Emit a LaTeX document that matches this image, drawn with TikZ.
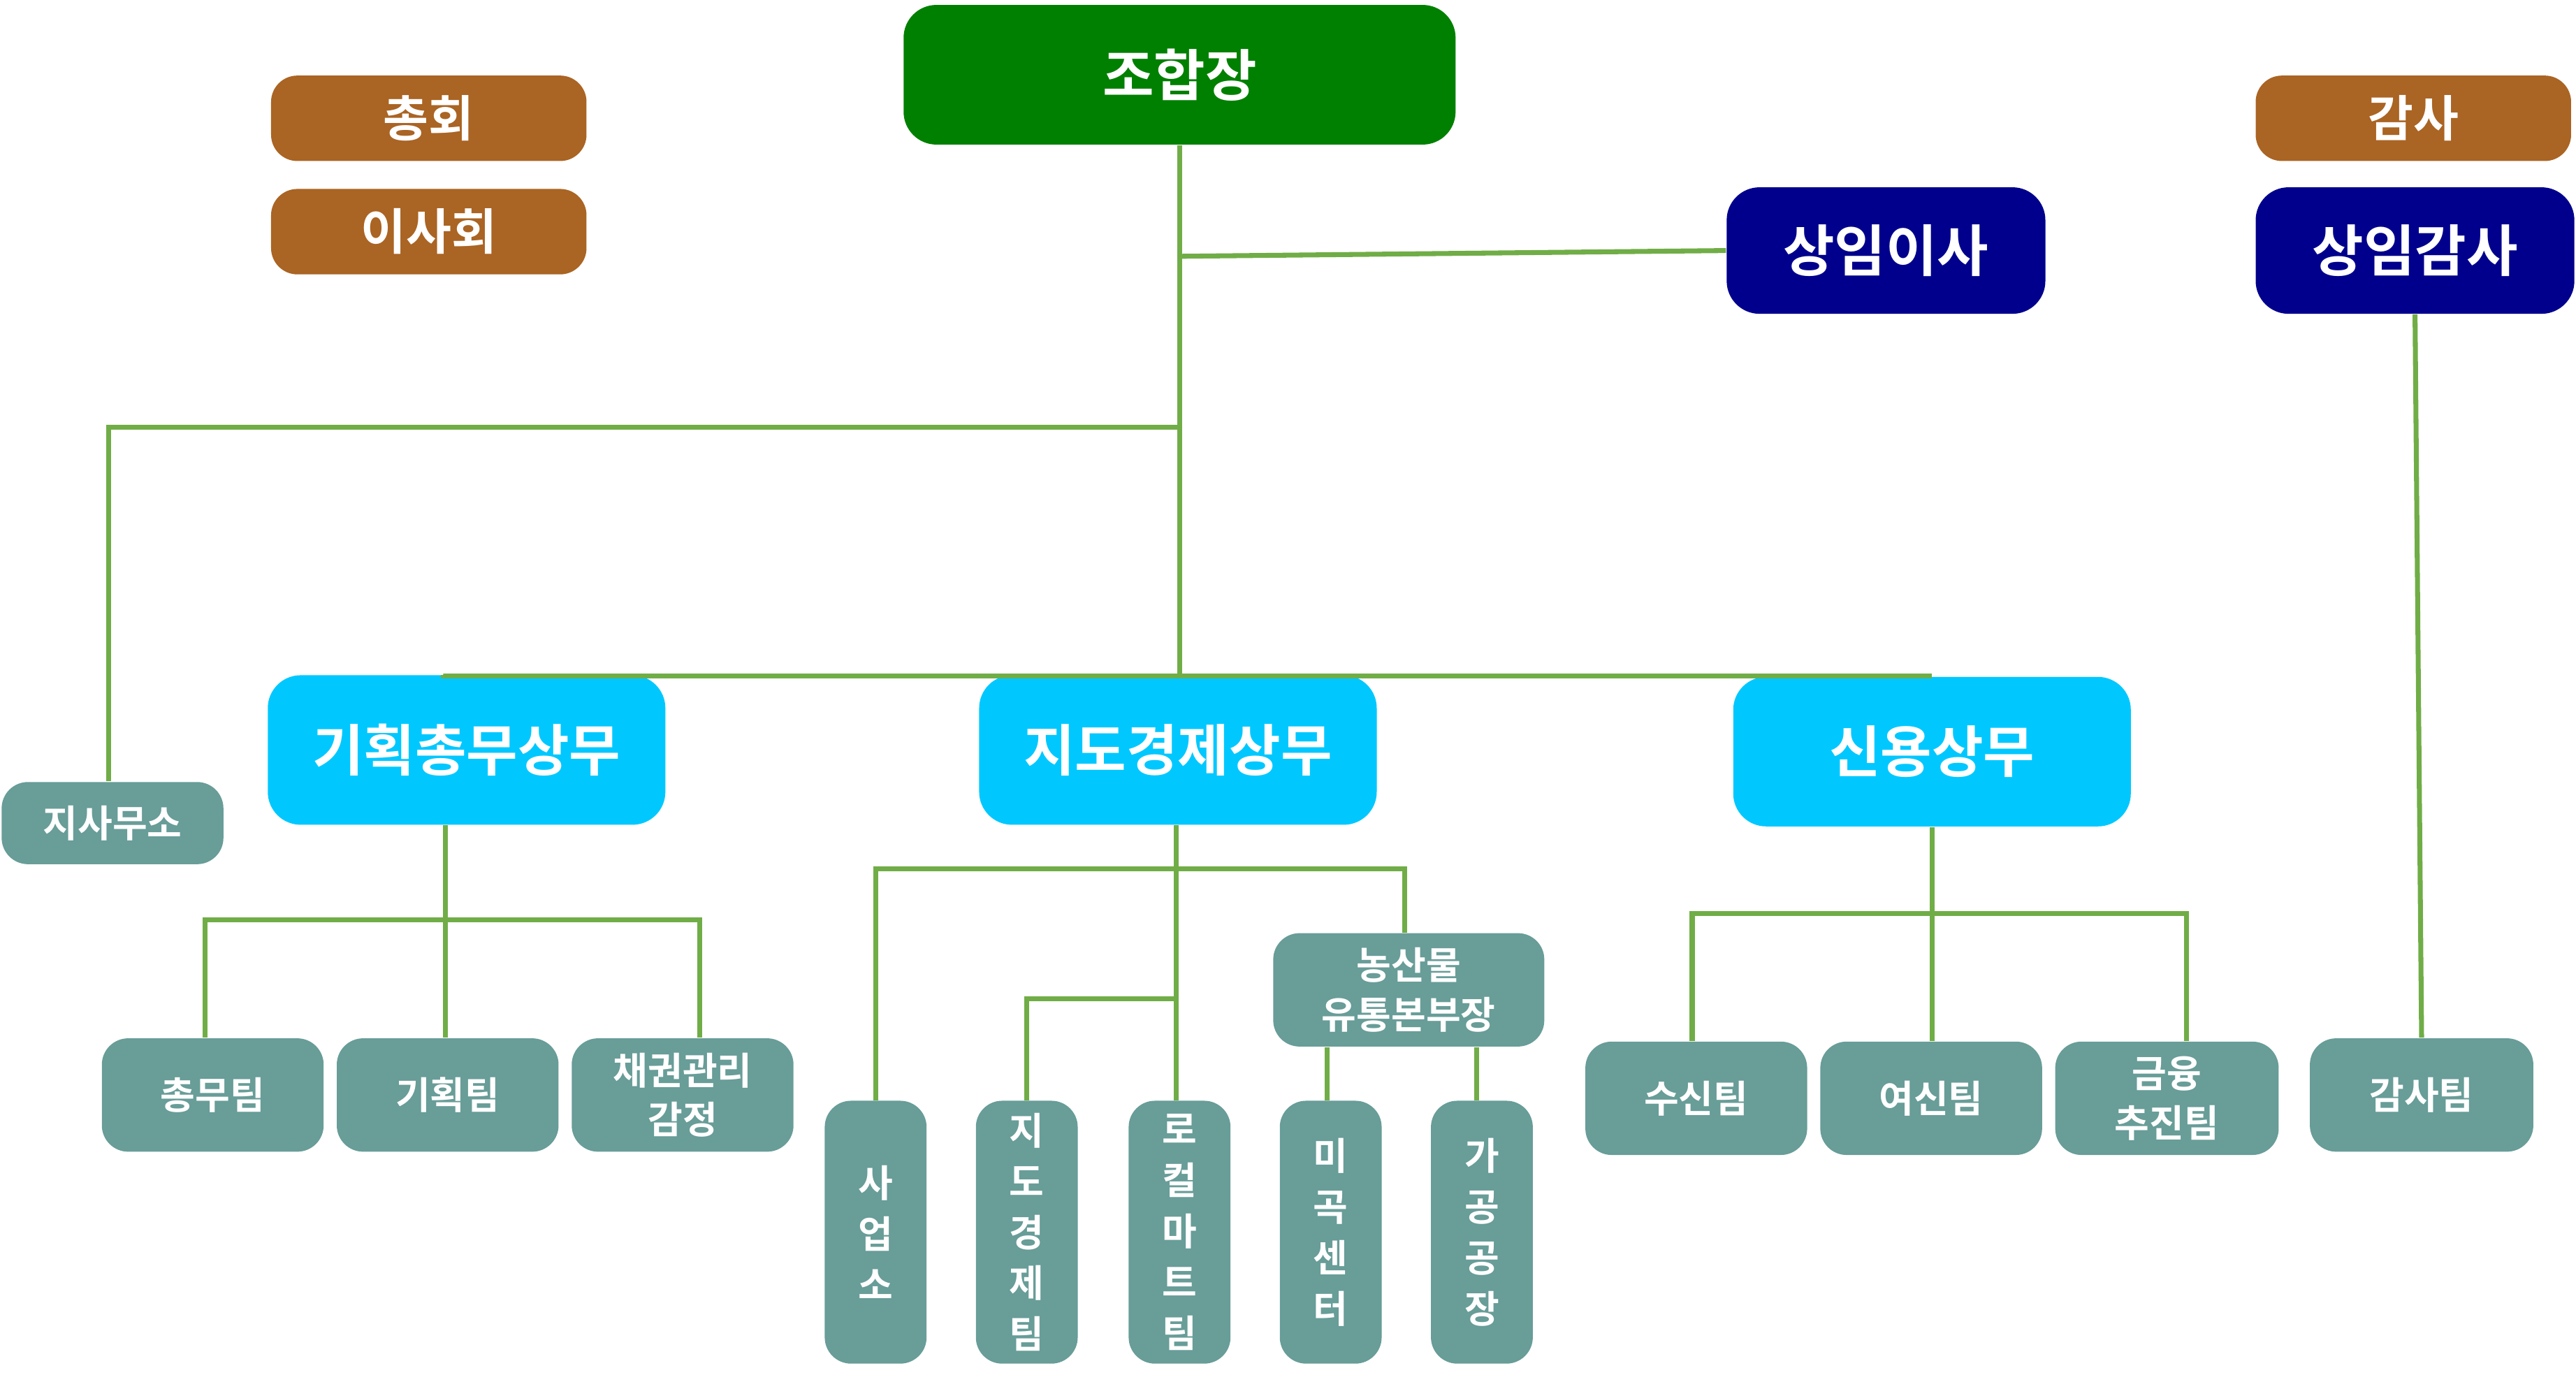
\documentclass[tikz,border=0pt]{standalone}
\usepackage{fontspec}
\setmainfont{Noto Sans CJK KR}[BoldFont={Noto Sans CJK KR Bold}]
\definecolor{gr}{RGB}{0,128,0}
\definecolor{br}{RGB}{170,100,35}
\definecolor{nv}{RGB}{0,0,140}
\definecolor{cy}{RGB}{0,200,255}
\definecolor{tl}{RGB}{104,157,152}
\definecolor{ln}{RGB}{112,173,71}
\begin{document}
\begin{tikzpicture}[x=0.5pt,y=-0.5pt,
 bx/.style={draw=none,text=white,font=\bfseries,inner sep=0pt,align=center},
 big/.style={bx,rounded corners=10pt,font=\fontsize{17}{20}\selectfont\bfseries},
 mid/.style={bx,rounded corners=8pt,font=\fontsize{15}{18}\selectfont\bfseries},
 sm/.style={bx,fill=tl,rounded corners=8pt,font=\fontsize{11.5}{15}\selectfont\bfseries},
 vt/.style={sm,font=\fontsize{11.5}{15.5}\selectfont\bfseries},
 ln/.style={draw=ln,line width=1.5pt}]
\useasboundingbox (0,0) rectangle (1568,841);
\newcommand\bxx[6]{\node[#1,fill=#2,minimum width={(#5-#3)*0.5pt},minimum height={(#6-#4)*0.5pt}] at ({(#3+#5)/2},{(#4+#6)/2})}
% boxes
\bxx{big}{gr}{550}{3}{886}{88} (jo) {조합장};
\bxx{mid}{br}{165}{46}{357}{98} (ch) {총회};
\bxx{mid}{br}{165}{115}{357}{167} (is) {이사회};
\bxx{mid}{br}{1373}{46}{1565}{98} (gs) {감사};
\bxx{big}{nv}{1051}{114}{1245}{191} (si) {상임이사};
\bxx{big}{nv}{1373}{114}{1567}{191} (sg) {상임감사};
\bxx{big}{cy}{163}{411}{405}{502} (g1) {기획총무상무};
\bxx{big}{cy}{596}{411}{838}{502} (g2) {지도경제상무};
\bxx{big}{cy}{1055}{412}{1297}{503} (g3) {신용상무};
\bxx{sm}{tl}{1}{476}{136}{526} (jsm) {지사무소};
\bxx{sm}{tl}{62}{632}{197}{701} (a1) {총무팀};
\bxx{sm}{tl}{205}{632}{340}{701} (a2) {기획팀};
\bxx{sm}{tl}{348}{632}{483}{701} (a3) {채권관리\\감정};
\bxx{sm}{tl}{775}{568}{940}{637} (ns) {농산물\\유통본부장};
\bxx{vt}{tl}{502}{670}{564}{830} (b1) {사\\업\\소};
\bxx{vt}{tl}{594}{670}{656}{830} (b2) {지\\도\\경\\제\\팀};
\bxx{vt}{tl}{687}{670}{749}{830} (b3) {로\\컬\\마\\트\\팀};
\bxx{vt}{tl}{779}{670}{841}{830} (b4) {미\\곡\\센\\터};
\bxx{vt}{tl}{871}{670}{933}{830} (b5) {가\\공\\공\\장};
\bxx{sm}{tl}{965}{634}{1100}{703} (c1) {수신팀};
\bxx{sm}{tl}{1108}{634}{1243}{703} (c2) {여신팀};
\bxx{sm}{tl}{1251}{634}{1387}{703} (c3) {금융\\추진팀};
\bxx{sm}{tl}{1406}{632}{1542}{701} (c4) {감사팀};
% connectors
\coordinate (t1) at (718,156);
\coordinate (t2) at (718,260);
\coordinate (t3) at (718,311);
\draw[ln] (jo.south -| 718,0) -- (g2.north -| 718,0);
\draw[ln] (t1) -- (si.west);
\draw[ln] (t2) -| (jsm.north -| 66,0);
\draw[ln] (g1.north -| 270,0) |- (g3.north -| 1176,311) -- (g3.north -| 1176,0);
\draw[ln] (sg.south) -- (c4.north);
\draw[ln] (g1.south -| 271,0) -- (a2.north -| 271,0);
\draw[ln] (a1.north -| 125,0) |- (271,560) -| (a3.north -| 426,0);
\draw[ln] (g2.south -| 716,0) -- (b3.north -| 716,0);
\draw[ln] (b1.north) |- (716,529) -| (ns.north -| 855,0);
\draw[ln] (b2.north) |- (716,608);
\draw[ln] (ns.south -| 808,0) -- (b4.north -| 808,0);
\draw[ln] (ns.south -| 899,0) -- (b5.north -| 899,0);
\draw[ln] (g3.south -| 1176,0) -- (c2.north -| 1176,0);
\draw[ln] (c1.north -| 1030,0) |- (1176,556) -| (c3.north -| 1331,0);
\end{tikzpicture}
\end{document}
